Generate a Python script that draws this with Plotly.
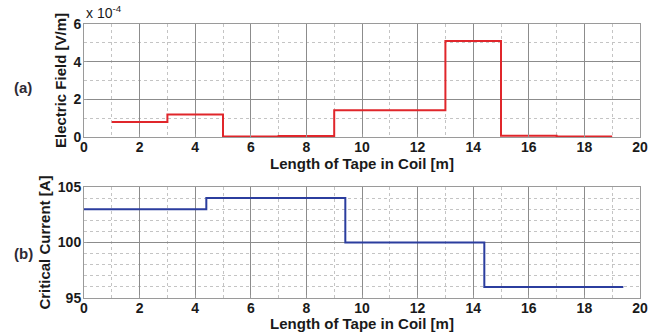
import plotly.graph_objects as go

# Top panel (a): electric field along the tape (step segments)
field_edges = [1, 3, 5, 7, 9, 13, 15, 17, 19]
field_values = [0.8e-4, 1.2e-4, 0.02e-4, 0.05e-4, 1.42e-4, 5.1e-4, 0.06e-4, 0.03e-4]

# Bottom panel (b): critical current along the tape
ic_edges = [0, 4.4, 9.4, 14.4, 19.4]
ic_values = [103, 104, 100, 96]

x_ticks = [0, 2, 4, 6, 8, 10, 12, 14, 16, 18, 20]
e_tickvals = [0, 2e-4, 4e-4, 6e-4]
e_ticktext = ["0", "2", "4", "6"]
ic_ticks = [95, 100, 105]

FONT = "Arial, 'Liberation Sans', sans-serif"
TXT = "#1a1a1a"
GRID = "#8c8c8c"
MINOR = "#c4c4c4"

fig = go.Figure()
fig.add_trace(go.Scatter(x=field_edges, y=field_values + [field_values[-1]],
                         mode="lines", line=dict(shape="hv", color="#e0262b", width=2),
                         xaxis="x", yaxis="y", showlegend=False))
fig.add_trace(go.Scatter(x=ic_edges, y=ic_values + [ic_values[-1]],
                         mode="lines", line=dict(shape="hv", color="#2b3d9e", width=2),
                         xaxis="x2", yaxis="y2", showlegend=False))

xdom = [84 / 667, 640 / 667]
top_dom = [1 - 137 / 332, 1 - 24 / 332]
bot_dom = [1 - 298 / 332, 1 - 187 / 332]

tickfont = dict(family=FONT, size=14, color=TXT, weight="bold")
titlefont = dict(family=FONT, size=15, color=TXT, weight="bold")

def xaxis(anchor):
    return dict(domain=xdom, range=[0, 20], tickvals=x_ticks, anchor=anchor, automargin=False,
                showgrid=True, gridcolor=GRID, gridwidth=1,
                minor=dict(dtick=1, showgrid=True, gridcolor=MINOR, griddash="dot", ticks=""),
                showline=True, linecolor="#9a9a9a", linewidth=1, mirror=True,
                ticks="inside", ticklen=3, tickcolor="#9a9a9a",
                tickfont=tickfont, zeroline=False, ticklabelstandoff=-3,
                title=dict(text="Length of Tape in Coil [m]", standoff=0, font=titlefont))

def yaxis(dom, rng, anchor, title, dtick_minor, **kw):
    return dict(domain=dom, range=rng, anchor=anchor, automargin=False,
                showgrid=True, gridcolor=GRID,
                minor=dict(dtick=dtick_minor, showgrid=True, gridcolor=MINOR, griddash="dot", ticks=""),
                showline=True, linecolor="#9a9a9a", mirror=True,
                ticks="inside", ticklen=3, tickcolor="#9a9a9a", zeroline=False,
                ticklabelstandoff=-1, tickfont=tickfont,
                title=dict(text=title, standoff=3, font=titlefont), **kw)

fig.update_layout(
    width=667, height=332, margin=dict(l=0, r=0, t=0, b=0),
    paper_bgcolor="white", plot_bgcolor="white",
    xaxis=xaxis("y"),
    xaxis2=xaxis("y2"),
    yaxis=yaxis(top_dom, [0, 6e-4], "x", "Electric Field [V/m]", 1e-4,
                tickvals=e_tickvals, ticktext=e_ticktext),
    yaxis2=yaxis(bot_dom, [95, 105], "x2", "Critical Current [A]", 1, tickvals=ic_ticks),
    annotations=[
        dict(text="(a)", x=23 / 667, y=1 - 88 / 332, xref="paper", yref="paper",
             xanchor="center", yanchor="middle",
             showarrow=False, font=dict(family=FONT, size=15, color="#2e2a35", weight="bold")),
        dict(text="(b)", x=23 / 667, y=1 - 253 / 332, xref="paper", yref="paper",
             xanchor="center", yanchor="middle",
             showarrow=False, font=dict(family=FONT, size=15, color="#2e2a35", weight="bold")),
        dict(text="x 10<sup>-4</sup>", x=84 / 667, y=1 - 23 / 332, xref="paper", yref="paper",
             xanchor="left", yanchor="bottom", showarrow=False,
             font=dict(family=FONT, size=14, color=TXT)),
    ],
)

fig.write_html("out.html", config={"displayModeBar": False},
               post_script="document.body.style.margin='0px';")
